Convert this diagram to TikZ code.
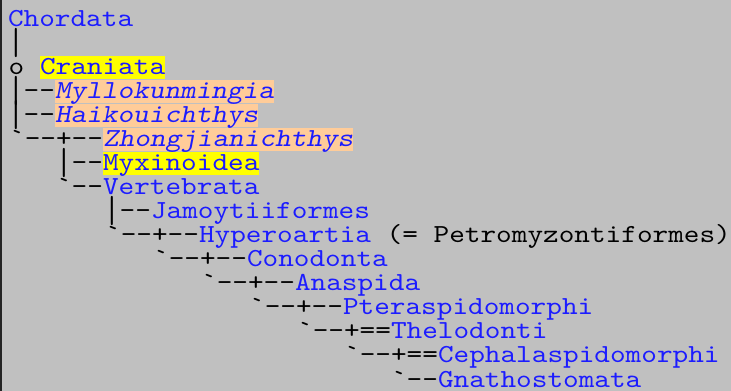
\documentclass[tikz,border=0pt]{standalone}
\usepackage{graphicx}
\usepackage{fontspec}
% typewriter face, widened to the column pitch of the listing
\setmonofont[Extension=.otf, ItalicFont=lmmonoslant10-regular, FakeStretch=1.146]{lmmono10-regular}
\definecolor{pagebg}{RGB}{192,192,192}
\definecolor{edgegray}{RGB}{36,36,36}
\definecolor{linkblue}{RGB}{28,28,255}
\definecolor{hlyellow}{RGB}{255,255,0}
\definecolor{hlpeach}{RGB}{255,204,153}
\newcommand\treefont{\fontsize{19.5pt}{18pt}\selectfont\ttfamily}
% a bar tall enough to nearly join the bar on the next line
\newcommand\tbar{\raisebox{-3pt}{\scalebox{1}[1.45]{|}}}

\begin{document}
\begin{tikzpicture}[x=0.75pt, y=-0.75pt,
  every node/.style={inner sep=0pt, outer sep=0pt, anchor=base west,
    font=\treefont, text height=14.25pt, text depth=3pt},
  taxon/.style={text=linkblue},
  hilite/.style={taxon, fill=hlyellow},
  fossil/.style={taxon, fill=hlpeach, font=\treefont\itshape},
  branch/.style={text=black, anchor=base east},
  note/.style={text=black, anchor=base west},
]
\useasboundingbox (0,0) rectangle (731,391);
\fill[pagebg] (0,0) rectangle (731,391);
\fill[edgegray] (0,0) rectangle (2,391);

% root
\node[taxon] (chordata) at (8,27) {Chordata};
\node[text=black] (b1) at (8,51) {\tbar};

% Craniata
\node[hilite] (craniata) at (40,75) {Craniata};
\node[branch] (b2) at (craniata.base west) {o\phantom{o}};

\node[fossil] (myllo) at (55,99) {Myllokunmingia};
\node[branch] (b3) at (myllo.base west) {\tbar--};

\node[fossil] (haikou) at (55,123) {Haikouichthys};
\node[branch] (b4) at (haikou.base west) {\tbar--};

\node[fossil] (zhong) at (103,147) {Zhongjianichthys};
\node[branch] (b5) at (zhong.base west) {`--+--};

\node[hilite] (myxin) at (103,171) {Myxinoidea};
\node[branch] (b6) at (myxin.base west) {\tbar--};

\node[taxon] (verteb) at (103,195) {Vertebrata};
\node[branch] (b7) at (verteb.base west) {`--};

% Vertebrata
\node[taxon] (jamoy) at (151,219) {Jamoytiiformes};
\node[branch] (b8) at (jamoy.base west) {\tbar--};

\node[taxon] (hyper) at (199,243) {Hyperoartia};
\node[branch] (b9) at (hyper.base west) {`--+--};
\node[note] (petro) at (hyper.base east) {\ (= Petromyzontiformes)};

\node[taxon] (conod) at (247,267) {Conodonta};
\node[branch] (b10) at (conod.base west) {`--+--};

\node[taxon] (anasp) at (295,291) {Anaspida};
\node[branch] (b11) at (anasp.base west) {`--+--};

\node[taxon] (ptera) at (343,315) {Pteraspidomorphi};
\node[branch] (b12) at (ptera.base west) {`--+--};

\node[taxon] (thelo) at (391,339) {Thelodonti};
\node[branch] (b13) at (thelo.base west) {`--+==};

\node[taxon] (cepha) at (438,363) {Cephalaspidomorphi};
\node[branch] (b14) at (cepha.base west) {`--+==};

\node[taxon] (gnath) at (438,387) {Gnathostomata};
\node[branch] (b15) at (gnath.base west) {`--};
\end{tikzpicture}
\end{document}
